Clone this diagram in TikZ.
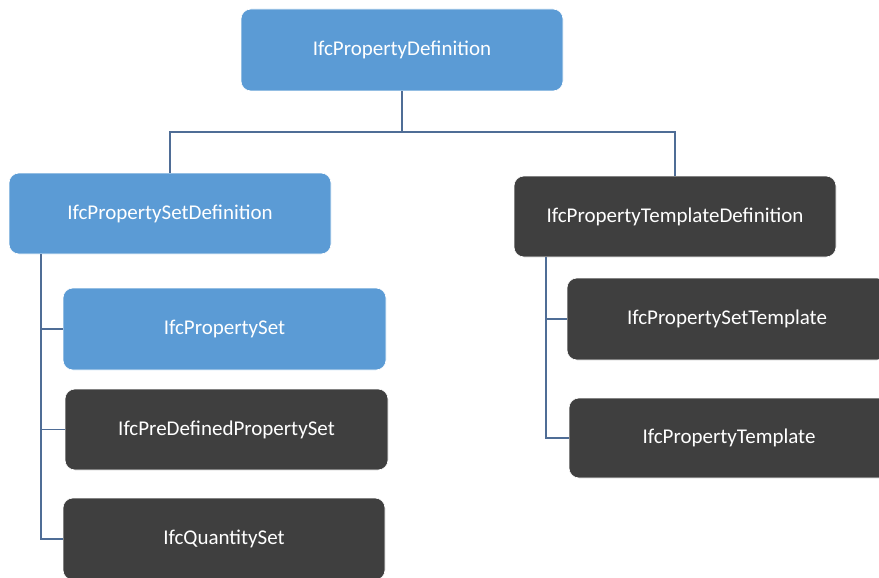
\documentclass[tikz,border=0pt]{standalone}
\usepackage{fontspec}
\setmainfont{Carlito}
\definecolor{boxblue}{HTML}{5B9BD5}
\definecolor{boxdark}{HTML}{3F3F3F}
\definecolor{linkcol}{HTML}{4F6D96}
\tikzset{
  classbox/.style={rounded corners=10pt, draw=white, line width=0.6pt,
    text=white, font=\fontsize{21}{24}\selectfont, inner sep=0pt},
  bluebox/.style={classbox, fill=boxblue},
  darkbox/.style={classbox, fill=boxdark},
  link/.style={draw=linkcol, line width=1.6pt}
}
\begin{document}
\begin{tikzpicture}[x=1pt,y=-1pt]
  \useasboundingbox (0,0) rectangle (879,578);
  \begin{scope}
  \clip (0,0) rectangle (879,578);
  % class boxes
  \node[bluebox, minimum width=322pt, minimum height=82pt] (top)  at (402,50)    {IfcPropertyDefinition};
  \node[bluebox, minimum width=322pt, minimum height=81pt] (psd)  at (170,213.5) {IfcPropertySetDefinition};
  \node[darkbox, minimum width=322pt, minimum height=81pt] (ptd)  at (675,216.5) {IfcPropertyTemplateDefinition};
  \node[bluebox, minimum width=323pt, minimum height=82pt] (ps)   at (224.5,329) {IfcPropertySet};
  \node[darkbox, minimum width=323pt, minimum height=81pt] (pdps) at (226.5,429.5) {IfcPreDefinedPropertySet};
  \node[darkbox, minimum width=322pt, minimum height=82pt] (qs)   at (224,539)   {IfcQuantitySet};
  \node[darkbox, minimum width=320pt, minimum height=82pt] (pst)  at (727,319)   {IfcPropertySetTemplate};
  \node[darkbox, minimum width=320pt, minimum height=80pt] (pt)   at (729,438)   {IfcPropertyTemplate};

  % tree connectors
  \coordinate (bus) at (402,132);
  \draw[link] (top.south) -- (bus);
  \draw[link] (psd.north) |- (bus) -| (ptd.north);

  \coordinate (lspine) at ([xshift=32pt]psd.south west);
  \draw[link] (lspine) |- (ps.west);
  \draw[link] (lspine) |- (pdps.west);
  \draw[link] (lspine) |- (qs.west);

  \coordinate (rspine) at ([xshift=32pt]ptd.south west);
  \draw[link] (rspine) |- (pst.west);
  \draw[link] (rspine) |- (pt.west);
  \end{scope}
\end{tikzpicture}
\end{document}
